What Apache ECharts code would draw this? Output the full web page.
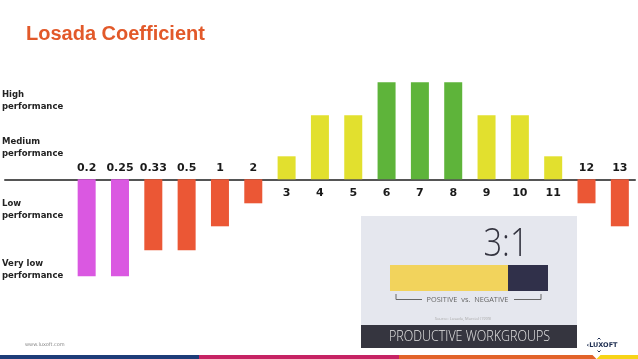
<!DOCTYPE html>
<html>
<head>
<meta charset="utf-8">
<script src="https://cdn.jsdelivr.net/npm/echarts@6/dist/echarts.min.js"></script>
<style>
html,body{margin:0;padding:0;background:#fff;}
#c{width:638px;height:359px;}
</style>
</head>
<body>
<div id="c"></div>
<script>
const titleText = 'Losada Coefficient';
const categories = ['0.2','0.25','0.33','0.5','1','2','3','4','5','6','7','8','9','10','11','12','13'];
const values = [-9.7,-9.7,-7.1,-7.1,-4.7,-2.4,2.3,6.4,6.4,9.7,9.7,9.7,6.4,6.4,2.3,-2.4,-4.7];
const levelLabels = ['High\nperformance','Medium\nperformance','Low\nperformance','Very low\nperformance'];
const insetRatio = '3:1';
const insetCaption = 'POSITIVE  vs.  NEGATIVE';
const insetSource = 'Source: Losada, Marcial (1999)';
const insetBanner = 'PRODUCTIVE WORKGROUPS';
const footerUrl = 'www.luxoft.com';
const logoText = '\u2039LUXOFT';

function barColor(v){
  if (v <= -9) return '#da58e1';
  if (v < 0) return '#eb5735';
  if (v >= 9) return '#5eb43a';
  return '#e2e02e';
}

const chart = echarts.init(document.getElementById('c'), null, {renderer:'canvas'});

const levelY = [101, 147.5, 210, 270];
const graphics = [];
graphics.push({type:'text', left:26, top:24, style:{text:titleText, fill:'#e2592a', font:'bold 20px "Liberation Sans", Arial, sans-serif'}});
levelLabels.forEach((t,i)=>{
  graphics.push({type:'text', x:2, y:levelY[i], style:{text:t, fill:'#222', font:'bold 8.5px "DejaVu Sans", Verdana, sans-serif', lineHeight:12, verticalAlign:'middle'}});
});
// inset panel
graphics.push({type:'rect', shape:{x:361,y:216,width:216,height:109}, style:{fill:'#e5e7ee'}, z:10});
graphics.push({type:'rect', shape:{x:361,y:325,width:216,height:23}, style:{fill:'#35353f'}, z:10});
graphics.push({type:'text', x:469.5, y:337, scaleX:0.89, style:{text:insetBanner, fill:'#e6e6e6', font:'300 14px "Open Sans", sans-serif', align:'center', verticalAlign:'middle'}, z:11});
graphics.push({type:'text', x:506, y:245, scaleX:0.86, style:{text:insetRatio, fill:'#33333f', font:'300 38px "Open Sans", sans-serif', align:'center', verticalAlign:'middle'}, z:11});
graphics.push({type:'rect', shape:{x:390,y:265,width:118,height:26}, style:{fill:'#f2d35c'}, z:11});
graphics.push({type:'rect', shape:{x:508,y:265,width:40,height:26}, style:{fill:'#30304a'}, z:11});
graphics.push({type:'polyline', shape:{points:[[396,294],[396,299.5],[422,299.5]]}, style:{stroke:'#666',lineWidth:1,fill:null}, z:11});
graphics.push({type:'polyline', shape:{points:[[514,299.5],[541,299.5],[541,294]]}, style:{stroke:'#666',lineWidth:1,fill:null}, z:11});
graphics.push({type:'text', x:467.5, y:299.5, scaleX:0.92, style:{text:insetCaption, fill:'#666', font:'8px "Open Sans", sans-serif', align:'center', verticalAlign:'middle'}, z:11});
graphics.push({type:'text', x:463, y:318.5, style:{text:insetSource, fill:'#aaa', font:'4px "Open Sans", sans-serif', align:'center', verticalAlign:'middle'}, z:11});
// footer
graphics.push({type:'text', x:25, y:345, style:{text:footerUrl, fill:'#888', font:'5px "DejaVu Sans", sans-serif', verticalAlign:'middle'}});
graphics.push({type:'rect', shape:{x:0,y:355,width:199,height:4}, style:{fill:'#1d3c78'}});
graphics.push({type:'rect', shape:{x:199,y:355,width:200,height:4}, style:{fill:'#c62364'}});
graphics.push({type:'rect', shape:{x:399,y:355,width:197,height:4}, style:{fill:'#e2632a'}});
graphics.push({type:'rect', shape:{x:596,y:355,width:42,height:4}, style:{fill:'#f7d417'}});
graphics.push({type:'polygon', shape:{points:[[592,354.5],[601,354.5],[596.5,359]]}, style:{fill:'#fff'}});
graphics.push({type:'text', x:602, y:345, style:{text:logoText, fill:'#1d2d50', font:'bold 6.5px "DejaVu Sans", sans-serif', align:'center', verticalAlign:'middle'}});
graphics.push({type:'polyline', shape:{points:[[597.5,339.5],[599,338],[600.5,339.5]]}, style:{stroke:'#1d2d50',lineWidth:1,fill:null}});
graphics.push({type:'polyline', shape:{points:[[597.5,350.5],[599,352],[600.5,350.5]]}, style:{stroke:'#1d2d50',lineWidth:1,fill:null}});

const option = {
  animation:false,
  backgroundColor:'#fff',
  grid:[
    {left:70, right:1.5, top:79.3, height:200, containLabel:false},
    {left:5, right:3, top:79.3, height:200, containLabel:false}
  ],
  xAxis:[
    {type:'category', gridIndex:0, data:categories, axisLine:{show:false}, axisTick:{show:false}, axisLabel:{show:false}, splitLine:{show:false}},
    {type:'value', gridIndex:1, min:0, max:1, axisLine:{show:true, onZero:true, lineStyle:{color:'#555', width:2}}, axisTick:{show:false}, axisLabel:{show:false}, splitLine:{show:false}}
  ],
  yAxis:[
    {type:'value', gridIndex:0, min:-10, max:10, show:false},
    {type:'value', gridIndex:1, min:-10, max:10, show:false}
  ],
  series:[{
    type:'bar',
    xAxisIndex:0, yAxisIndex:0,
    barWidth:18,
    data: values.map(v=>({
      value:v,
      itemStyle:{color:barColor(v)},
      label:{position: v>0 ? 'bottom' : 'top', distance: v>0 ? 8 : 6}
    })),
    label:{
      show:true,
      formatter:p=>p.name,
      color:'#1a1a1a',
      fontFamily:'"DejaVu Sans", Verdana, sans-serif',
      fontWeight:'bold',
      fontSize:11
    }
  }],
  graphic: graphics
};
chart.setOption(option);
</script>
</body>
</html>
